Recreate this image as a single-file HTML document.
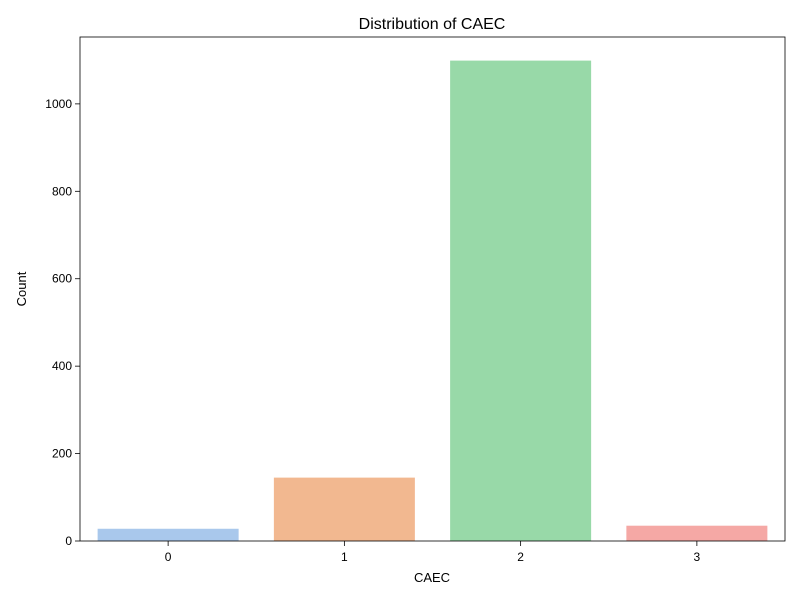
<!DOCTYPE html>
<html><head><meta charset="utf-8"><style>
body{margin:0;background:#fff;font-family:"Liberation Sans",sans-serif;}
</style></head><body>
<svg id="chart" width="800" height="600" xmlns="http://www.w3.org/2000/svg">
<rect width="800" height="600" fill="#fff"/>
<text x="432" y="29" font-size="16" text-anchor="middle">Distribution of CAEC</text>
<g id="bars"></g>
<g id="axes"></g>
<text x="432" y="582" font-size="13" text-anchor="middle">CAEC</text>
<text x="26" y="289" font-size="13" text-anchor="middle" transform="rotate(-90 26 289)">Count</text>
</svg>
<script>
const categories = ["0","1","2","3"];
const counts = [28, 145, 1099, 35];
const colors = ["#a9c8ec","#f2b890","#98d9a8","#f5a8a5"];
const yTicks = [0,200,400,600,800,1000];
const L=80,R=785,T=37,B=541,YMAX=1153;
const ns="http://www.w3.org/2000/svg";
const y=v=>B-(v/YMAX)*(B-T);
const bw=(R-L)/categories.length;
const x=i=>L+bw*(i+0.5);
const bars=document.getElementById('bars'), axes=document.getElementById('axes');
function mk(t,a,p){const e=document.createElementNS(ns,t);for(const k in a)e.setAttribute(k,a[k]);p.appendChild(e);return e;}
counts.forEach((c,i)=>{
 const r=mk('rect',{x:x(i)-bw*0.4,y:y(c),width:bw*0.8,height:B-y(c),fill:colors[i]},bars);
 
 
 mk('line',{x1:x(i),x2:x(i),y1:B,y2:B+5,stroke:'#000','stroke-width':0.8},axes);
 const t=mk('text',{x:x(i),y:B+20,'font-size':12,'text-anchor':'middle'},axes);t.textContent=categories[i];
 
 
});
yTicks.forEach(v=>{
 mk('line',{x1:L-5,x2:L,y1:y(v),y2:y(v),stroke:'#000','stroke-width':0.8},axes);
 const t=mk('text',{x:L-8,y:y(v)+4,'font-size':12,'text-anchor':'end'},axes);t.textContent=v;
 
 
});
const f=mk('rect',{x:L,y:T,width:R-L,height:B-T,fill:'none',stroke:'#000','stroke-width':0.8},axes);


</script>
</body></html>
